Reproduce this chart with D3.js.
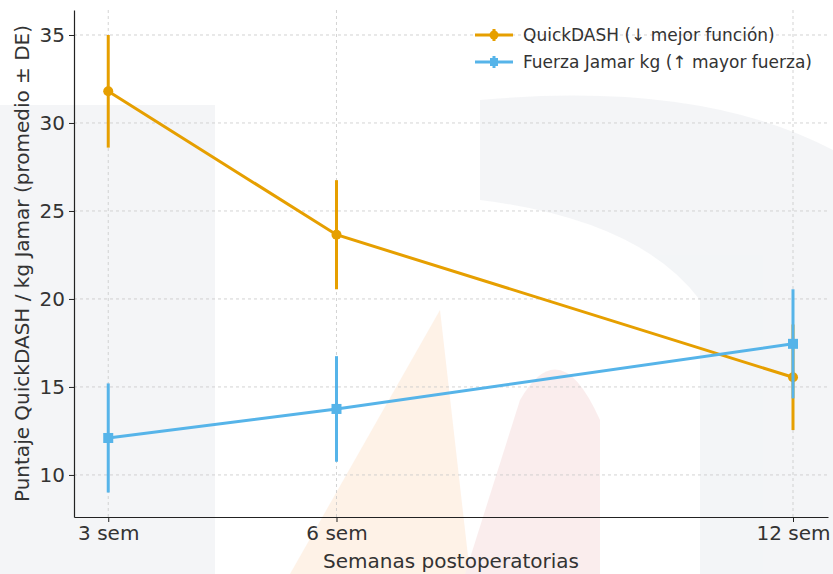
<!DOCTYPE html>
<html>
<head>
  <meta charset="utf-8">
  <script src="https://d3js.org/d3.v7.min.js"></script>
  <style>
    body { margin: 0; background: #fff; }
    text { font-family: "DejaVu Sans", sans-serif; }
  </style>
</head>
<body>
  <div id="chart"></div>
  <script>
    // semanas postoperatorias
    const weeks = [3, 6, 12];
    const tickLabels = ["3 sem", "6 sem", "12 sem"];
    const yTicks = [10, 15, 20, 25, 30, 35];

    const quickMean = [31.8, 23.65, 15.55];
    const quickSd = [3.2, 3.1, 3.0];
    const jamarMean = [12.1, 13.75, 17.45];
    const jamarSd = [3.1, 3.0, 3.1];

    const legendLabels = ["QuickDASH (↓ mejor función)", "Fuerza Jamar kg (↑ mayor fuerza)"];
    const colors = ["#E69F00", "#56B4E9"];

    const W = 833, H = 574;
    const margin = { left: 74, right: 5, top: 10, bottom: 57 };

    const svg = d3.select("#chart").append("svg")
      .attr("width", W).attr("height", H);

    // faint watermark in the background
    const wm = svg.append("g").attr("opacity", 0.45);
    wm.append("rect").attr("x", 0).attr("y", 105).attr("width", 215).attr("height", 469).attr("fill", "#e6e9ee");
    wm.append("path").attr("d", "M480,100 Q700,80 833,150 L833,574 L700,574 L700,300 Q640,220 480,200 Z").attr("fill", "#e6e9ee");
    wm.append("path").attr("d", "M290,574 L440,310 L470,574 Z").attr("fill", "#fde3cc");
    wm.append("path").attr("d", "M465,574 L520,400 Q560,330 600,420 L600,574 Z").attr("fill", "#f6d9d9");

    const x = d3.scaleLinear().domain([2.55, 12.46]).range([margin.left, W - margin.right]);
    const y = d3.scaleLinear().domain([7.61, 36.42]).range([H - margin.bottom, margin.top]);

    // grid
    const grid = svg.append("g").attr("stroke", "#c8c8c8").attr("stroke-width", 0.8).attr("stroke-dasharray", "3,3");
    grid.selectAll(".gy").data(yTicks).join("line")
      .attr("x1", margin.left).attr("x2", W - margin.right)
      .attr("y1", d => y(d)).attr("y2", d => y(d));
    grid.selectAll(".gx").data(weeks).join("line")
      .attr("x1", d => x(d)).attr("x2", d => x(d))
      .attr("y1", margin.top).attr("y2", H - margin.bottom);

    // axes
    const xAxis = svg.append("g")
      .attr("transform", `translate(0,${H - margin.bottom})`)
      .call(d3.axisBottom(x).tickValues(weeks).tickFormat((d, i) => tickLabels[i]).tickSize(5).tickSizeOuter(0).tickPadding(4));
    const yAxis = svg.append("g")
      .attr("transform", `translate(${margin.left},0)`)
      .call(d3.axisLeft(y).tickValues(yTicks).tickSize(5).tickSizeOuter(0).tickPadding(4));
    [xAxis, yAxis].forEach(a => {
      a.select(".domain").attr("stroke", "#222").attr("stroke-width", 1.2);
      a.selectAll(".tick line").attr("stroke", "#222");
      a.selectAll("text").attr("font-size", 20).attr("fill", "#333");
    });

    svg.append("text")
      .attr("x", (margin.left + W - margin.right) / 2).attr("y", 568)
      .attr("text-anchor", "middle").attr("font-size", 20).attr("fill", "#333")
      .text("Semanas postoperatorias");
    svg.append("text")
      .attr("transform", `translate(29,${(margin.top + H - margin.bottom) / 2}) rotate(-90)`)
      .attr("text-anchor", "middle").attr("font-size", 20).attr("fill", "#333")
      .text("Puntaje QuickDASH / kg Jamar (promedio ± DE)");

    const series = [
      { mean: quickMean, sd: quickSd, color: colors[0], marker: "circle" },
      { mean: jamarMean, sd: jamarSd, color: colors[1], marker: "square" }
    ];
    const line = d3.line().x((d, i) => x(weeks[i])).y(d => y(d));

    series.forEach(s => {
      const g = svg.append("g");
      g.selectAll("line.err").data(s.mean).join("line")
        .attr("x1", (d, i) => x(weeks[i])).attr("x2", (d, i) => x(weeks[i]))
        .attr("y1", (d, i) => y(d + s.sd[i])).attr("y2", (d, i) => y(d - s.sd[i]))
        .attr("stroke", s.color).attr("stroke-width", 3);
      g.append("path").datum(s.mean).attr("d", line)
        .attr("fill", "none").attr("stroke", s.color).attr("stroke-width", 3);
      if (s.marker === "circle") {
        g.selectAll("circle").data(s.mean).join("circle")
          .attr("cx", (d, i) => x(weeks[i])).attr("cy", d => y(d)).attr("r", 5)
          .attr("fill", s.color);
      } else {
        g.selectAll("rect").data(s.mean).join("rect")
          .attr("x", (d, i) => x(weeks[i]) - 5).attr("y", d => y(d) - 5)
          .attr("width", 10).attr("height", 10).attr("fill", s.color);
      }
    });

    // legend
    const lg = svg.append("g").attr("transform", "translate(475,35)");
    series.forEach((s, i) => {
      const row = lg.append("g").attr("transform", `translate(0,${i * 27})`);
      row.append("line").attr("x1", 0).attr("x2", 38).attr("stroke", s.color).attr("stroke-width", 3);
      row.append("line").attr("x1", 19).attr("x2", 19).attr("y1", -6).attr("y2", 6).attr("stroke", s.color).attr("stroke-width", 3);
      if (s.marker === "circle") row.append("circle").attr("cx", 19).attr("r", 4.5).attr("fill", s.color);
      else row.append("rect").attr("x", 15).attr("y", -4).attr("width", 8).attr("height", 8).attr("fill", s.color);
      row.append("text").attr("x", 48).attr("y", 6).attr("font-size", 17).attr("fill", "#333").text(legendLabels[i]);
    });
  </script>
</body>
</html>
